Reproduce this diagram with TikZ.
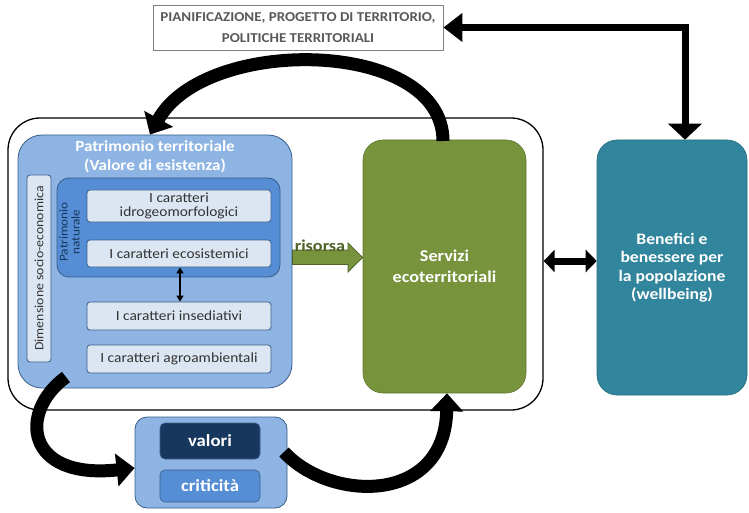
\documentclass[tikz,border=0pt]{standalone}
\usepackage{fontspec}
\setmainfont[FakeStretch=1.1]{Carlito}
\usetikzlibrary{arrows.meta,calc}
\definecolor{patblue}{HTML}{8EB4E3}
\definecolor{natblue}{HTML}{558ED5}
\definecolor{paleblue}{HTML}{DCE6F2}
\definecolor{navyblue}{HTML}{17375E}
\definecolor{borderblue}{HTML}{385D8A}
\definecolor{olivegreen}{HTML}{77933C}
\definecolor{darkolive}{HTML}{4F6228}
\definecolor{tealblue}{HTML}{31859C}
\definecolor{planborder}{HTML}{7F7F7F}
\definecolor{plantext}{HTML}{595959}
\begin{document}
\begin{tikzpicture}[x=1pt,y=-1pt,
  pbox/.style={draw=borderblue, line width=0.8pt, inner sep=0pt, align=center},
  charbox/.style={pbox, fill=paleblue, rounded corners=3pt, minimum width=184pt,
    font=\fontsize{14}{16}\selectfont, text=black!80},
  bigarrow/.style={line width=13pt, -{Triangle[width=32pt,length=18pt]}},
  whitetext/.style={text=white, align=center, inner sep=0pt}
]
\useasboundingbox (0,0) rectangle (749,513);

% outer frame
\node[draw=black, line width=1.3pt, rounded corners=32pt, minimum width=535pt,
  minimum height=292pt, inner sep=0pt] (frame) at (275.5,264) {};

% planning box
\node[draw=planborder, line width=0.9pt, fill=white, minimum width=290pt,
  minimum height=45pt, inner sep=0pt, align=center, text=plantext,
  font=\bfseries\fontsize{13.6}{21}\selectfont] (plan) at (298,27.5)
  {PIANIFICAZIONE, PROGETTO DI TERRITORIO,\\POLITICHE TERRITORIALI};

% patrimonio territoriale
\node[pbox, fill=patblue, rounded corners=24pt, minimum width=274pt,
  minimum height=253pt] (pat) at (155,261.5) {};
\node[whitetext, anchor=north, font=\bfseries\fontsize{15.5}{19.5}\selectfont]
  (pattitle) at (155,140) {Patrimonio territoriale\\(Valore di esistenza)};
\node[pbox, fill=paleblue, rounded corners=3pt, rotate=90, minimum width=187pt,
  minimum height=24pt, font=\fontsize{12.6}{15}\selectfont, text=black!80]
  (dim) at (39,268.5) {Dimensione socio-economica};
\node[pbox, fill=natblue, rounded corners=12pt, minimum width=223pt,
  minimum height=99pt] (nat) at (168.5,227.5) {};
\node[rotate=90, align=center, inner sep=0pt, text=navyblue,
  font=\fontsize{12}{12}\selectfont] (natlabel) at (69.5,232) {Patrimonio\\naturale};
\node[charbox, minimum height=32pt] (idro) at (179,206) {I caratteri\\[-2pt]idrogeomorfologici};
\node[charbox, minimum height=27pt] (eco) at (179,253.5) {I caratteri ecosistemici};
\node[charbox, minimum height=28pt] (ins) at (179,316) {I caratteri insediativi};
\node[charbox, minimum height=28pt] (agro) at (179,359) {I caratteri agroambientali};
\draw[line width=1.6pt, {Triangle[width=7pt,length=6pt]}-{Triangle[width=7pt,length=6pt]}]
  (eco.south -| 180,0) -- (ins.north -| 180,0);

% servizi
\node[fill=olivegreen, draw=olivegreen!80!black, line width=0.6pt, rounded corners=20pt,
  minimum width=163pt, minimum height=253pt, whitetext,
  font=\bfseries\fontsize{16.5}{21.5}\selectfont] (serv) at (444.5,266.5)
  {Servizi\\ecoterritoriali};

% benefici
\node[fill=tealblue, draw=tealblue!80!black, line width=0.6pt, rounded corners=20pt,
  minimum width=150pt, minimum height=255pt, whitetext,
  font=\bfseries\fontsize{16}{18.5}\selectfont] (ben) at (672,267.5)
  {Benefici e\\benessere per\\la popolazione\\(wellbeing)};

% valori / criticita
\node[pbox, fill=patblue, rounded corners=12pt, minimum width=152pt,
  minimum height=91pt] (valbox) at (211,462.5) {};
\node[fill=navyblue, draw=borderblue, line width=0.6pt, rounded corners=5pt,
  minimum width=100pt, minimum height=36pt, whitetext,
  font=\bfseries\fontsize{17}{20}\selectfont] (val) at (210,441) {valori};
\node[fill=natblue, draw=borderblue, line width=0.6pt, rounded corners=5pt,
  minimum width=100pt, minimum height=32pt, whitetext,
  font=\bfseries\fontsize{17}{20}\selectfont] (crit) at (210,486) {criticità};

% risorsa block arrow
\draw[fill=olivegreen, draw=darkolive, line width=0.8pt]
  (pat.east |- 0,250) -- (348,250) -- (348,243) -- (serv.west |- 0,257.5)
  -- (348,272) -- (348,264.5) -- (pat.east |- 0,264.5) -- cycle;
\node[anchor=south, inner sep=0pt, text=darkolive,
  font=\bfseries\fontsize{16.5}{18}\selectfont] (ris) at (320,252) {risorsa};

% double arrow servizi - benefici
\draw[line width=7pt, {Triangle[width=22pt,length=11pt]}-{Triangle[width=22pt,length=11pt]}]
  (frame.east |- 0,261) -- (ben.west |- 0,261);

% planning feedback
\draw[line width=7pt, miter limit=10,
  {Triangle[width=28pt,length=19pt]}-{Triangle[width=33pt,length=16pt]}]
  (plan.east) -- (685,27.5) -- (ben.north -| 685,0);

% curved arrows
\draw[bigarrow] (443,141) .. controls (443,38) and (205,35) .. (pat.north -| 150,0);
\draw[bigarrow] (66,377) .. controls (18,412) and (25,480) .. (valbox.west |- 0,468);
\draw[bigarrow] (284,452) .. controls (330,502) and (445,505) .. (serv.south -| 447,0);
\end{tikzpicture}
\end{document}
